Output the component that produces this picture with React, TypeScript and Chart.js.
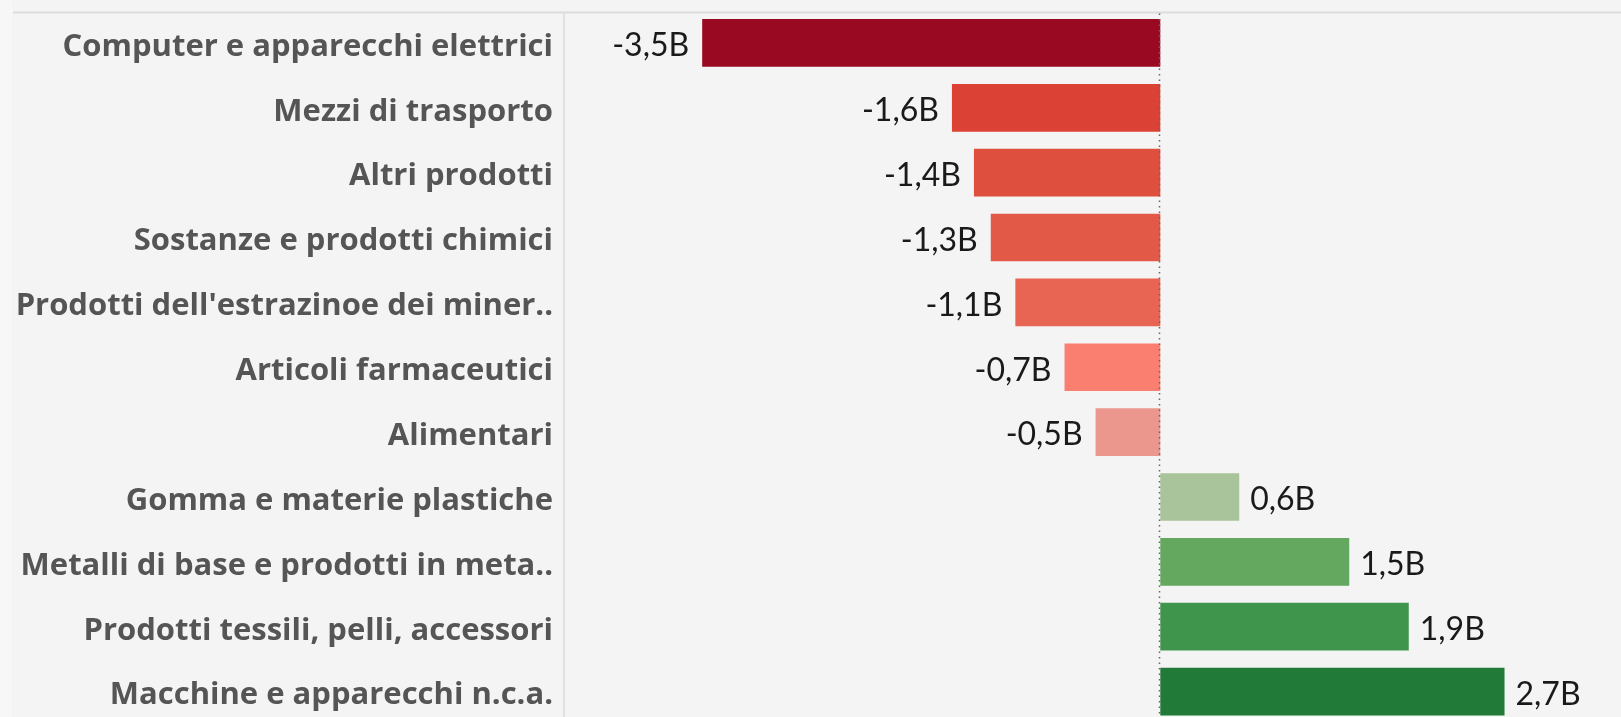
import React, { useEffect, useRef } from "react";
import { Chart, registerables } from "chart.js";

Chart.register(...registerables);

const categories = [
  "Computer e apparecchi elettrici",
  "Mezzi di trasporto",
  "Altri prodotti",
  "Sostanze e prodotti chimici",
  "Prodotti dell'estrazinoe dei miner..",
  "Articoli farmaceutici",
  "Alimentari",
  "Gomma e materie plastiche",
  "Metalli di base e prodotti in meta..",
  "Prodotti tessili, pelli, accessori",
  "Macchine e apparecchi n.c.a.",
];

// billions of euro
const values = [-3.54, -1.61, -1.44, -1.31, -1.12, -0.74, -0.5, 0.61, 1.46, 1.92, 2.66];

const barColors = [
  "#990a22",
  "#db4134",
  "#df4f3d",
  "#e25a47",
  "#e86554",
  "#fa7f71",
  "#eb978e",
  "#a9c49a",
  "#64a75e",
  "#3f954b",
  "#217a38",
];

const X_MIN = -4.6;
const X_MAX = 3.56;

const fmt = (v: number) => v.toFixed(1).replace(".", ",") + "B";

const decorPlugin = {
  id: "decor",
  beforeDraw(chart: any) {
    const { ctx, chartArea, width, height } = chart;
    ctx.save();
    ctx.fillStyle = "#f4f4f4";
    ctx.fillRect(0, 0, width, height);
    ctx.fillStyle = "#f7f7f7";
    ctx.fillRect(0, 0, 12, height);
    // top rule
    ctx.fillStyle = "#dcdcdc";
    ctx.fillRect(13, chartArea.top + 1, width - 13, 2);
    // divider
    ctx.fillStyle = "#e1e1e1";
    ctx.fillRect(chartArea.left - 2, chartArea.top + 1, 2, height);
    ctx.restore();
  },
  afterDatasetsDraw(chart: any) {
    const { ctx, chartArea } = chart;
    const xs = chart.scales.x;
    const x0 = Math.round(xs.getPixelForValue(0)) - 0.5;
    ctx.save();
    ctx.strokeStyle = "#666";
    ctx.lineWidth = 1.5;
    ctx.setLineDash([1.5, 4]);
    ctx.beginPath();
    ctx.moveTo(x0, chartArea.top + 3);
    ctx.lineTo(x0, chart.height);
    ctx.stroke();
    ctx.setLineDash([]);

    // value labels
    const meta = chart.getDatasetMeta(0);
    ctx.font = "400 32px Lato";
    ctx.fillStyle = "#1a1a1a";
    ctx.textBaseline = "middle";
    meta.data.forEach((bar: any, i: number) => {
      const v = values[i];
      if (v < 0) {
        ctx.textAlign = "right";
        ctx.fillText(fmt(v), bar.x - 13, bar.y + 3);
      } else {
        ctx.textAlign = "left";
        ctx.fillText(fmt(v), bar.x + 11, bar.y + 3);
      }
    });
    ctx.restore();
  },
};

export default function App() {
  const ref = useRef<HTMLCanvasElement | null>(null);

  useEffect(() => {
    if (!ref.current) return;
    const chart = new Chart(ref.current, {
      type: "bar",
      data: {
        labels: categories,
        datasets: [
          {
            data: values,
            backgroundColor: barColors,
            borderWidth: 0,
            barPercentage: 0.735,
            categoryPercentage: 1,
          },
        ],
      },
      options: {
        indexAxis: "y",
        animation: false,
        responsive: false,
        maintainAspectRatio: false,
        layout: { padding: { top: 10.5, bottom: 12, left: 0, right: 0 } },
        plugins: {
          legend: { display: false },
          tooltip: { enabled: false },
        },
        scales: {
          x: {
            display: false,
            min: X_MIN,
            max: X_MAX,
          },
          y: {
            grid: { display: false, drawTicks: false },
            border: { display: false },
            ticks: {
              color: "#555555",
              padding: 12,
              labelOffset: 4,
              font: { family: "Open Sans", weight: "bold", size: 31 },
            },
            afterFit: (scale: any) => {
              scale.width = 565;
              scale.paddingTop = 0;
              scale.paddingBottom = 0;
            },
          },
        },
      },
      plugins: [decorPlugin],
    });
    return () => chart.destroy();
  }, []);

  return (
    <div
      style={{
        position: "fixed",
        left: 0,
        top: 0,
        width: 1621,
        height: 717,
        overflow: "hidden",
        background: "#f4f4f4",
      }}
    >
      <canvas ref={ref} width={1621} height={736} style={{ display: "block" }} />
    </div>
  );
}
